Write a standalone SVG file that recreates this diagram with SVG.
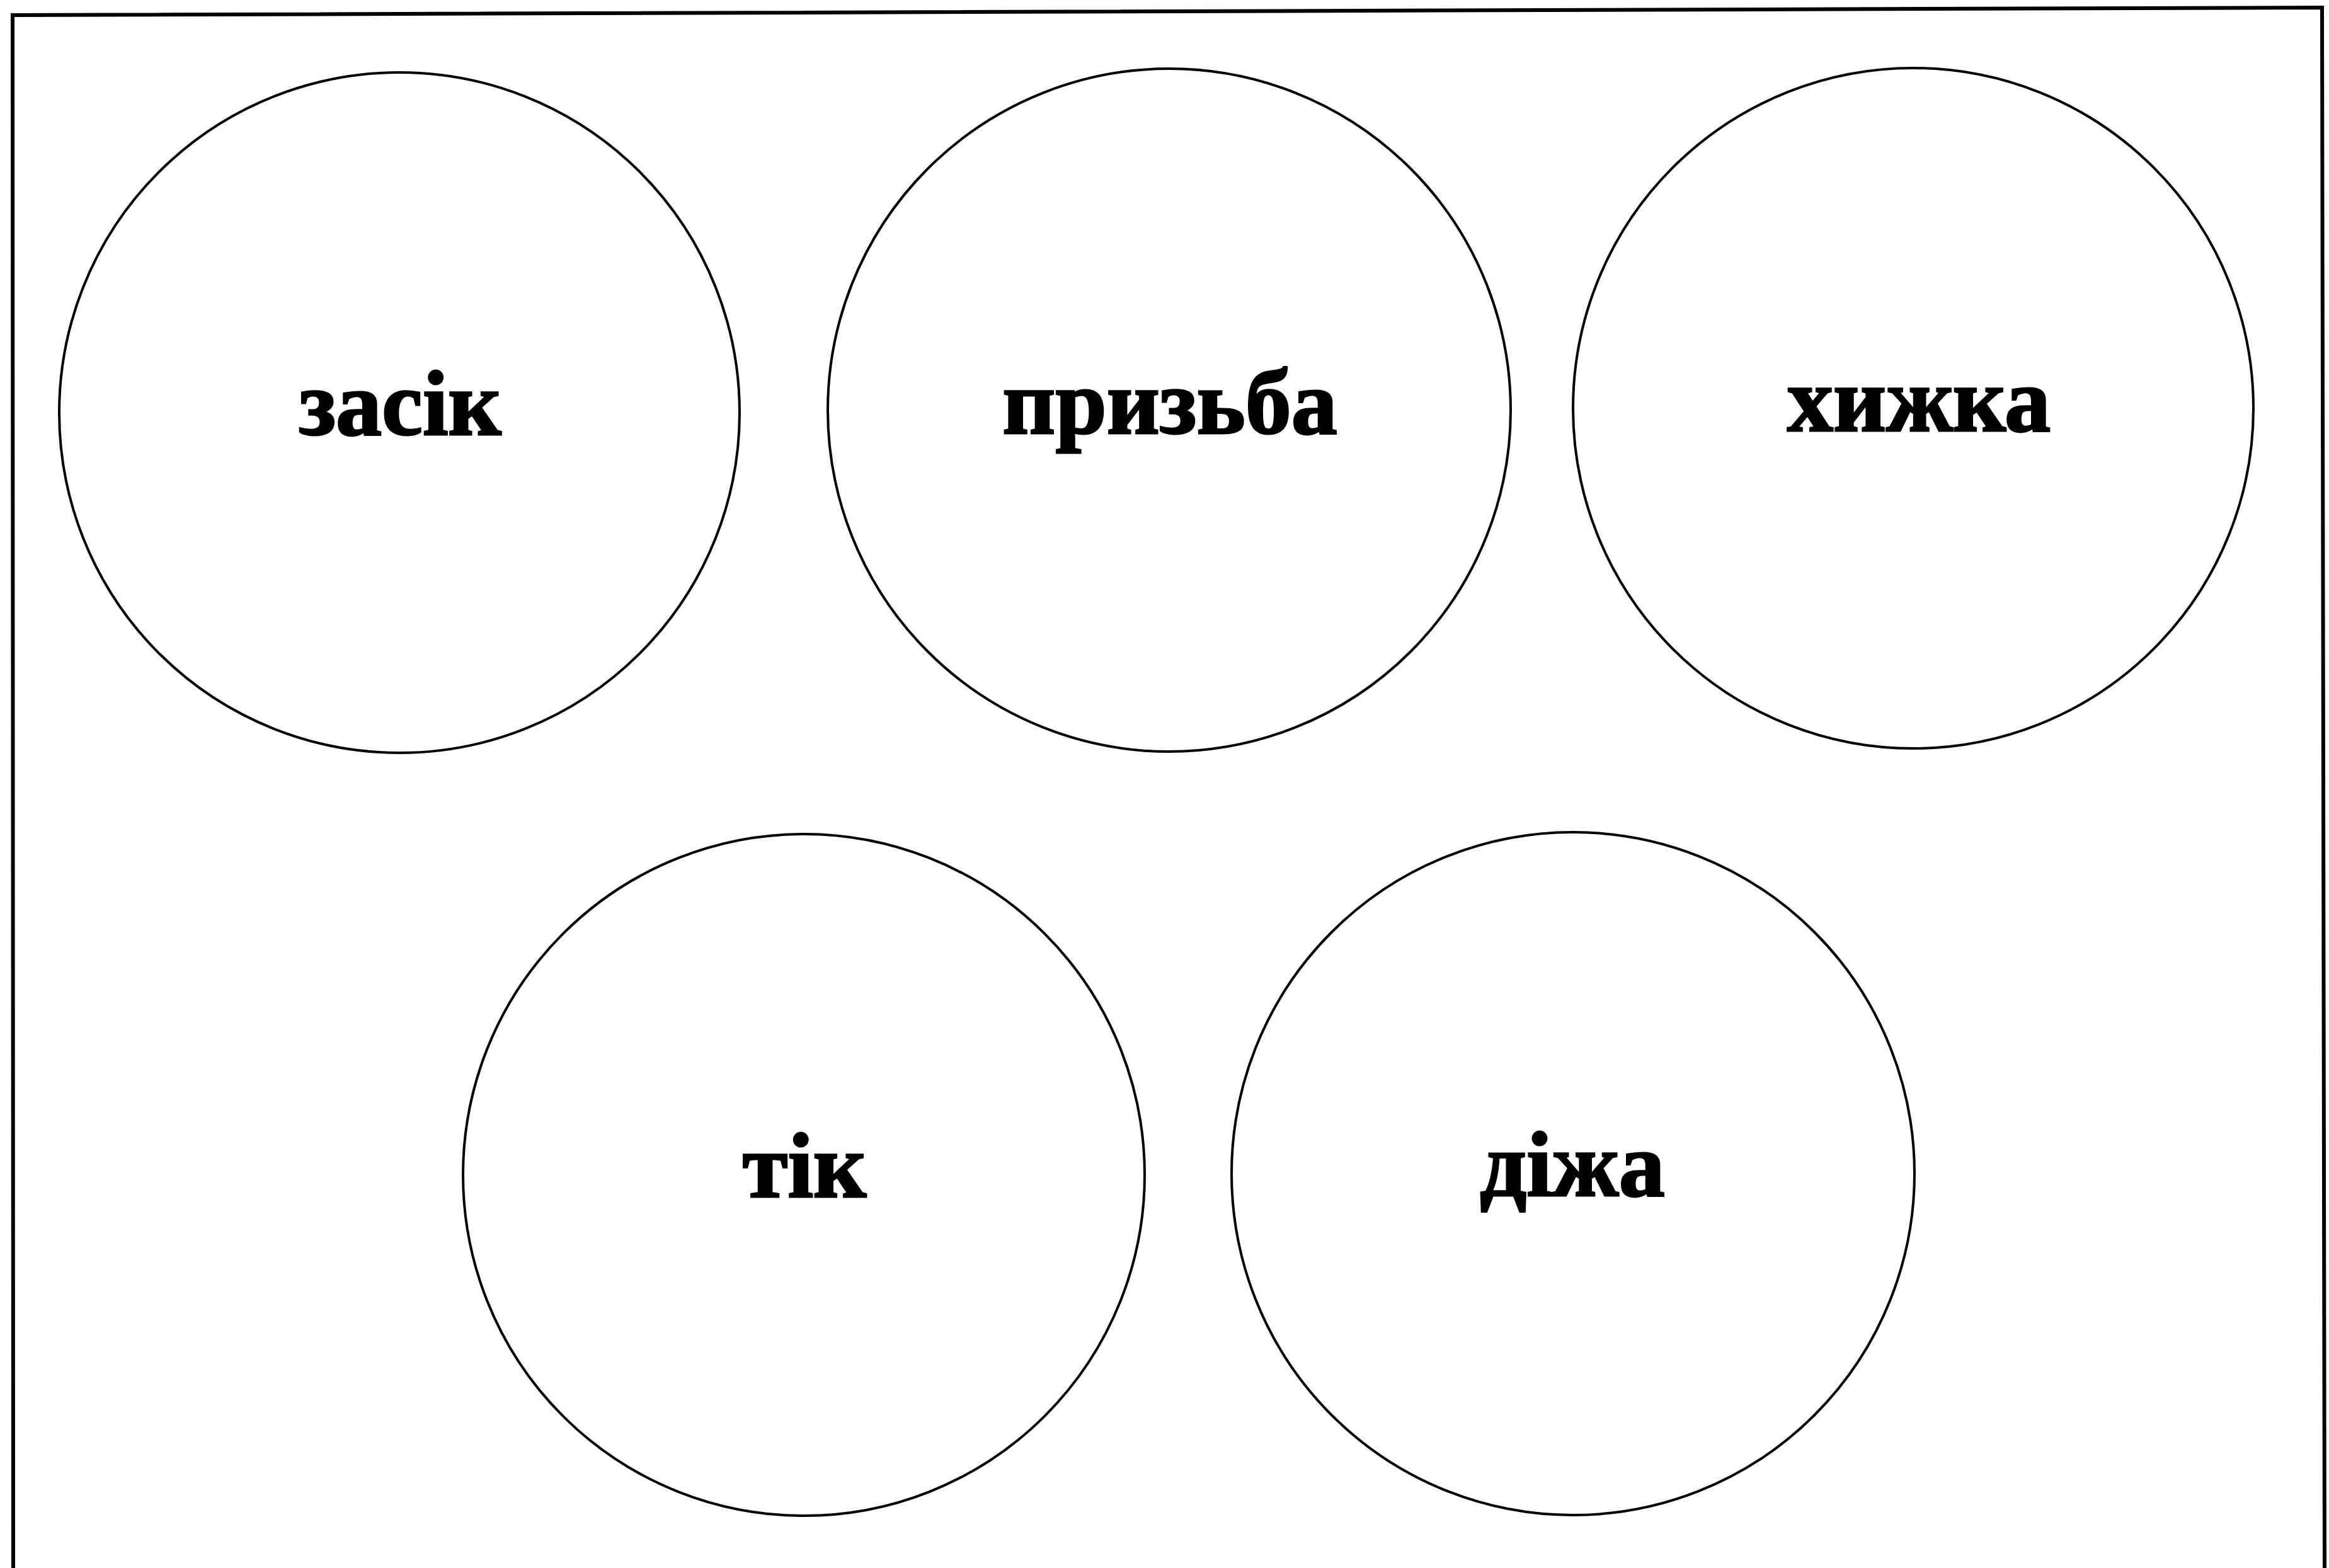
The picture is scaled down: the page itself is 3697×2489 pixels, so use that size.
<svg xmlns="http://www.w3.org/2000/svg" width="3697" height="2489" viewBox="0 0 3697 2489">
<style>
.node circle{fill:#fff;stroke:#000;stroke-width:4}
.node text{font-family:"Liberation Serif","DejaVu Serif",serif;font-weight:bold;font-size:146px;fill:#000;stroke:#000;stroke-width:3;text-anchor:middle}
</style>
<rect width="3697" height="2489" fill="#fff"/>
<polyline points="21,2489 20,24 3686,12 3690,2489" fill="none" stroke="#000" stroke-width="6"/>
<g id="n1" class="node"><circle cx="634" cy="655" r="540"/><text x="635" y="690">засік</text></g>
<g id="n2" class="node"><circle cx="1856" cy="651" r="542"/><text x="1857" y="688">призьба</text></g>
<g id="n3" class="node"><circle cx="3037" cy="648" r="540"/><text x="3046" y="684">хижка</text></g>
<g id="n4" class="node"><circle cx="1276" cy="1865" r="541"/><text x="1277" y="1900">тік</text></g>
<g id="n5" class="node"><circle cx="2497" cy="1863" r="542"/><text x="2496" y="1898">діжа</text></g>
<g id="connectors"></g>
</svg>
